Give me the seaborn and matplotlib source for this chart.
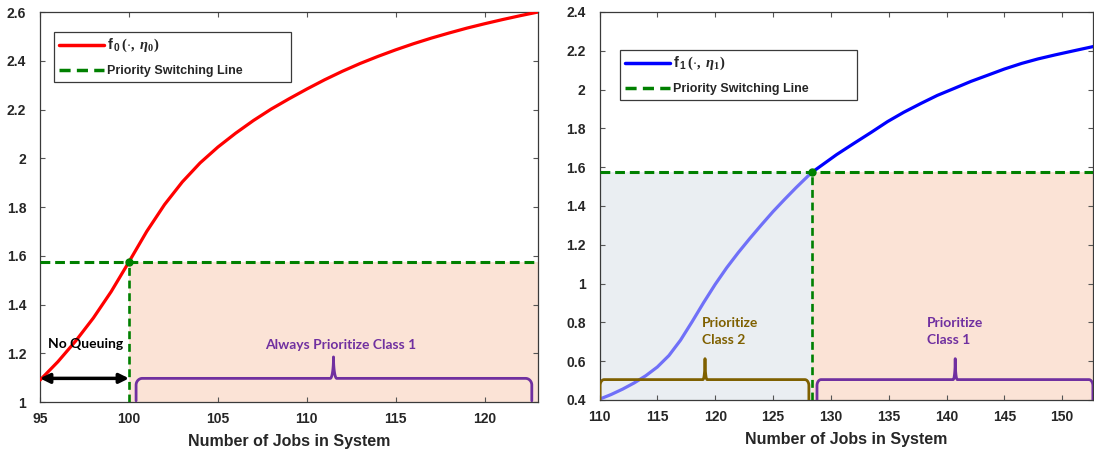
import numpy as np
import matplotlib
matplotlib.use('Agg')
import matplotlib.pyplot as plt
from matplotlib.lines import Line2D
import seaborn as sns

# ---------------------------------------------------------------------------
# Data
# ---------------------------------------------------------------------------
f0_x = [95, 96, 97, 98, 99, 100, 101, 102, 103, 104, 105, 106, 107, 108,
        109, 110, 111, 112, 113, 114, 115, 116, 117, 118, 119, 120, 121,
        122, 123]
f0_y = [1.09, 1.165, 1.25, 1.345, 1.453, 1.575, 1.70, 1.81, 1.903, 1.981,
        2.046, 2.103, 2.155, 2.202, 2.244, 2.284, 2.322, 2.357, 2.389, 2.418,
        2.445, 2.47, 2.493, 2.514, 2.534, 2.552, 2.569, 2.585, 2.60]
switch0 = (100.0, 1.575)

f1_x = [110, 111, 112, 113, 114, 115, 116, 117, 118, 119, 120, 121, 122,
        123, 124, 125, 126, 127, 128, 128.4, 129.1, 130.5, 132.0, 133.5,
        134.9, 136.3, 137.8, 139.2, 140.7, 142.1, 143.6, 145.0, 146.5, 147.9,
        149.4, 151.0, 152.7]
f1_y = [0.404, 0.428, 0.456, 0.488, 0.525, 0.57, 0.629, 0.708, 0.803, 0.902,
        0.996, 1.082, 1.16, 1.233, 1.303, 1.371, 1.434, 1.495, 1.553, 1.575,
        1.605, 1.665, 1.723, 1.78, 1.835, 1.883, 1.929, 1.97, 2.007, 2.042,
        2.075, 2.106, 2.135, 2.158, 2.179, 2.20, 2.222]
switch1 = (128.4, 1.575)

left_xlim, left_ylim = (95, 123), (1.0, 2.6)
right_xlim, right_ylim = (110, 152.7), (0.4, 2.4)
left_xticks = [95, 100, 105, 110, 115, 120]
left_yticks = [1, 1.2, 1.4, 1.6, 1.8, 2, 2.2, 2.4, 2.6]
right_xticks = [110, 115, 120, 125, 130, 135, 140, 145, 150]
right_yticks = [0.4, 0.6, 0.8, 1, 1.2, 1.4, 1.6, 1.8, 2, 2.2, 2.4]

# braces: (start, end, base level, bottom, tip x, tip level)
brace_class1_left = (100.4, 122.65, 1.097, 1.005, 111.5, 1.185)
brace_class2_right = (110.05, 128.1, 0.505, 0.4, 119.12, 0.613)
brace_class1_right = (128.8, 152.65, 0.505, 0.4, 140.75, 0.613)

# ---------------------------------------------------------------------------
# Style
# ---------------------------------------------------------------------------
sns.set_style('ticks')
plt.rcParams['font.family'] = ['Liberation Sans', 'DejaVu Sans']
plt.rcParams['font.weight'] = 'bold'
plt.rcParams['mathtext.fontset'] = 'custom'
plt.rcParams['mathtext.rm'] = 'Liberation Serif'
plt.rcParams['mathtext.bf'] = 'Liberation Sans:bold'
plt.rcParams['mathtext.it'] = 'Liberation Serif:italic:bold'

RED = '#FF0000'
BLUE = '#0000FF'
LIGHT_BLUE = '#7070F8'
GREEN = '#008000'
PEACH = '#FBE3D6'
GREYBLUE = '#EAEEF2'
PURPLE = '#7030A0'
BROWN = '#7F6000'
INK = '#262626'
ANNOT_FONT = ['Lato', 'DejaVu Sans']
DASH = (0, (3.2, 1.6))


def brace_path(x0, x1, yb, ybot, xt, ytip, r=0.35, rt=0.18):
    """Curly-brace like path built from quarter ellipses."""
    h = (yb - ybot) * 0.3
    t = np.linspace(0, np.pi / 2, 20)
    xs, ys = [x0], [ybot]
    xs += list(x0 + r - r * np.cos(t)); ys += list(yb - h + h * np.sin(t))
    xs += list(xt - rt + rt * np.sin(t)); ys += list(ytip - (ytip - yb) * np.cos(t))
    xs += list(xt + rt - rt * np.cos(t)); ys += list(ytip - (ytip - yb) * np.sin(t))
    xs += list(x1 - r + r * np.sin(t)); ys += list(yb - h + h * np.cos(t))
    xs.append(x1); ys.append(ybot)
    return np.array(xs), np.array(ys)


def style_axes(ax, xlim, ylim, xticks, yticks):
    ax.set_xlim(*xlim)
    ax.set_ylim(*ylim)
    ax.set_xticks(xticks)
    ax.set_yticks(yticks)
    ax.set_yticklabels([f'{v:g}' for v in yticks])
    ax.tick_params(direction='in', top=True, right=True, length=3.5,
                   labelsize=10, color='#555555', width=0.8)
    ax.tick_params(axis='y', pad=10)
    ax.tick_params(axis='x', pad=7)
    for lab in ax.get_xticklabels() + ax.get_yticklabels():
        lab.set_fontweight('bold')
        lab.set_color(INK)
    for s in ax.spines.values():
        s.set_visible(True)
        s.set_color('#3a3a3a')
        s.set_linewidth(0.9)
    ax.set_xlabel('Number of Jobs in System', fontsize=11.5,
                  fontweight='bold', color=INK, labelpad=6)
    ax.set_ylabel('')


def add_legend(ax, label, color, anchor):
    handles = [Line2D([], [], color=color, lw=2.5),
               Line2D([], [], color=GREEN, lw=2.5, ls=(0, (3.2, 1.8)))]
    leg = ax.legend(handles, [label, 'Priority Switching Line'],
                    loc='upper left', bbox_to_anchor=anchor, mode='expand',
                    borderaxespad=0, handlelength=3.6, handletextpad=0.25,
                    fancybox=False, edgecolor='#3a3a3a', framealpha=1,
                    prop={'weight': 'bold', 'size': 9}, borderpad=0.4,
                    labelspacing=0.85)
    leg.get_texts()[0].set_fontsize(10.5)
    leg.get_frame().set_linewidth(0.9)


fig = plt.figure(figsize=(10.94, 4.54), dpi=100)
ax0 = fig.add_axes([0.0366, 0.1145, 0.4552, 0.859])
ax1 = fig.add_axes([0.548, 0.119, 0.4515, 0.8546])

# ---------------------------------------------------------------------------
# Left panel
# ---------------------------------------------------------------------------
sx, sy = switch0
ax0.fill_between([sx, left_xlim[1]], left_ylim[0], sy, color=PEACH, lw=0, zorder=0)
sns.lineplot(x=f0_x, y=f0_y, ax=ax0, color=RED, lw=2.3, zorder=3)
ax0.plot(left_xlim, [sy, sy], ls=DASH, color=GREEN, lw=2.2, zorder=4)
ax0.plot([sx, sx], [left_ylim[0], sy], ls=(0, (3, 1.8)), color=GREEN, lw=1.9, zorder=4)
ax0.plot([sx], [sy], 'o', color=GREEN, ms=5, zorder=5)

bx, by = brace_path(*brace_class1_left)
ax0.plot(bx, by, color=PURPLE, lw=2, zorder=4)
ax0.text(111.9, 1.234, 'Always Prioritize Class 1', color=PURPLE,
         ha='center', va='center', fontsize=10, fontweight='bold', family=ANNOT_FONT)

ax0.annotate('', xy=(left_xlim[0], 1.097), xytext=(sx, 1.097),
             arrowprops=dict(arrowstyle='<|-|>', color='black', lw=2.5,
                             shrinkA=0, shrinkB=0, mutation_scale=14), zorder=5)
ax0.text(97.56, 1.238, 'No Queuing', color='black', ha='center', va='center',
         fontsize=10, fontweight='bold', family=ANNOT_FONT)

style_axes(ax0, left_xlim, left_ylim, left_xticks, left_yticks)
add_legend(ax0, r'$\mathbf{f}_{\,\mathbf{0}}\,(\cdot,\ \eta_0)$', RED,
           (0.028, 0.8154, 0.4765, 0.1333))

# ---------------------------------------------------------------------------
# Right panel
# ---------------------------------------------------------------------------
sx, sy = switch1
ax1.fill_between([right_xlim[0], sx], right_ylim[0], sy, color=GREYBLUE, lw=0, zorder=0)
ax1.fill_between([sx, right_xlim[1]], right_ylim[0], sy, color=PEACH, lw=0, zorder=0)
f1x = np.array(f1_x); f1y = np.array(f1_y)
lo = f1x <= sx
hi = f1x >= sx
sns.lineplot(x=f1x[lo], y=f1y[lo], ax=ax1, color=LIGHT_BLUE, lw=2.3, zorder=3)
sns.lineplot(x=f1x[hi], y=f1y[hi], ax=ax1, color=BLUE, lw=2.3, zorder=3)
ax1.plot(right_xlim, [sy, sy], ls=DASH, color=GREEN, lw=2.2, zorder=4)
ax1.plot([sx, sx], [right_ylim[0], sy], ls=(0, (3, 1.8)), color=GREEN, lw=1.9, zorder=4)
ax1.plot([sx], [sy], 'o', color=GREEN, ms=5, zorder=5)

bx, by = brace_path(*brace_class2_right)
ax1.plot(bx, by, color=BROWN, lw=2, zorder=4)
ax1.text(118.83, 0.755, 'Prioritize\nClass 2', color=BROWN, ha='left', va='center',
         fontsize=10, fontweight='bold', family=ANNOT_FONT, linespacing=1.5)
bx, by = brace_path(*brace_class1_right)
ax1.plot(bx, by, color=PURPLE, lw=2, zorder=4)
ax1.text(138.28, 0.755, 'Prioritize\nClass 1', color=PURPLE, ha='left', va='center',
         fontsize=10, fontweight='bold', family=ANNOT_FONT, linespacing=1.5)

style_axes(ax1, right_xlim, right_ylim, right_xticks, right_yticks)
add_legend(ax1, r'$\mathbf{f}_{\,\mathbf{1}}\,(\cdot,\ \eta_1)$', BLUE,
           (0.0415, 0.768, 0.48, 0.134))

fig.savefig('out.png', dpi=100)
